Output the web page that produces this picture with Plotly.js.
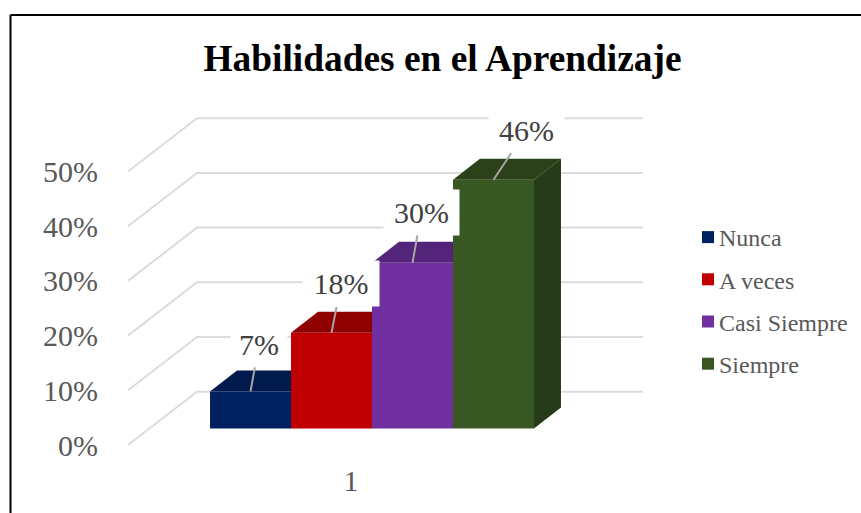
<!DOCTYPE html>
<html><head><meta charset="utf-8">
<script src="https://cdn.plot.ly/plotly-3.0.1.min.js"></script>
<style>html,body{margin:0;padding:0;background:#fff}#c{width:861px;height:513px}</style>
</head><body><div id="c"></div>
<script>
// Data
const categories = ['1'];
const series = ['Nunca', 'A veces', 'Casi Siempre', 'Siempre'];
const values = [6.8, 17.5, 30.3, 45.5];
const yTicks = [0, 10, 20, 30, 40, 50];
const yTickLabels = ['0%', '10%', '20%', '30%', '40%', '50%'];
const frontColors = ['#002060', '#c00000', '#7030a0', '#385723'];
const topColors = ['#001a4d', '#8f0000', '#54247a', '#2a4119'];
const sideColor = '#263c18';

// Pseudo-3D geometry in axis units
const L = 99, R = 855, T = 100, B = 452;
const xUnit = 446, yUnit = 5.47, xZero = 351, yZero = 445;
const floor = 3.0, barLeft = -0.3161, barW = 0.1816, depthX = 0.0605, depthY = 3.84;
const wallX = 0.1547, wallY = 9.74;
const FONT = 'Liberation Serif';

const traces = [];
yTicks.forEach(t => traces.push({
  type: 'scatter', mode: 'lines', zorder: -1, showlegend: false, hoverinfo: 'skip',
  x: [-0.5, -0.5 + wallX, 0.5 + wallX], y: [t, t + wallY, t + wallY],
  line: {color: '#dcdcdc', width: 2}
}));
series.forEach((name, i) => {
  const x0 = barLeft + i * barW, x1 = x0 + barW, top = floor + values[i];
  traces.push({
    type: 'bar', name, x: [0], y: [values[i]], base: floor, width: barW, offset: x0,
    zorder: i, legendgroup: name, hoverinfo: 'skip',
    marker: {color: frontColors[i], line: {width: 0}}
  });
  traces.push({
    type: 'scatter', mode: 'lines', zorder: i, showlegend: false, hoverinfo: 'skip',
    x: [x0, x1, x1 + depthX, x0 + depthX, x0], y: [top, top, top + depthY, top + depthY, top],
    fill: 'toself', fillcolor: topColors[i], line: {width: 0, color: topColors[i]}
  });
  traces.push({
    type: 'scatter', mode: 'lines', zorder: i, showlegend: false, hoverinfo: 'skip',
    x: [x1, x1 + depthX, x1 + depthX, x1, x1], y: [floor, floor + depthY, top + depthY, top, floor],
    fill: 'toself', fillcolor: sideColor, line: {width: 0, color: sideColor}
  });
});

const labelOffsets = [[8.5, -47, 56], [9.5, -49, 76], [9, -50.5, 75], [33, -49.5, 75]];
const annotations = series.map((name, i) => ({
  xref: 'x', yref: 'y', x: barLeft + (i + 0.5) * barW, y: floor + values[i],
  text: Math.round(values[i]) + '%', font: {family: FONT, size: 30, color: '#404040'},
  showarrow: true, arrowhead: 0, arrowwidth: 2, arrowcolor: '#a6a6a6', standoff: 0,
  axref: 'pixel', ayref: 'pixel',
  ax: labelOffsets[i][0], ay: labelOffsets[i][1],
  width: labelOffsets[i][2], height: 45, bgcolor: '#ffffff', borderpad: 0, align: 'center', valign: 'middle'
}));

const fx = p => (p - L) / (R - L), fy = p => (B - p) / (B - T);
const layout = {
  width: 861, height: 513, paper_bgcolor: '#fff', plot_bgcolor: 'rgba(0,0,0,0)',
  margin: {l: L, r: 861 - R, t: T, b: 513 - B, pad: 0},
  barmode: 'overlay', hovermode: false,
  title: {text: 'Habilidades en el Aprendizaje', x: 442.5 / 861, xanchor: 'center', xref: 'container', y: 1 - 58 / 513, yanchor: 'middle', yref: 'container',
    font: {family: FONT, size: 37.4, color: '#000', weight: 'bold'}},
  xaxis: {range: [(L - xZero) / xUnit, (R - xZero) / xUnit], tickvals: [0], ticktext: categories,
    showgrid: false, zeroline: false, showline: false, ticks: 'outside', ticklen: 2, tickcolor: 'rgba(0,0,0,0)',
    tickfont: {family: FONT, size: 30, color: '#595959'}},
  yaxis: {range: [(yZero - B) / yUnit, (yZero - T) / yUnit], tickvals: yTicks, ticktext: yTickLabels,
    showgrid: false, zeroline: false, showline: false, ticks: '',
    tickfont: {family: FONT, size: 30, color: '#595959'}},
  showlegend: true,
  legend: {x: fx(679), xanchor: 'left', y: fy(215), yanchor: 'top', tracegroupgap: 8,
    entrywidth: 70, entrywidthmode: 'pixels',
    font: {family: FONT, size: 24, color: '#595959'}, bgcolor: 'rgba(0,0,0,0)', borderwidth: 0, itemclick: false, itemdoubleclick: false},
  annotations,
  shapes: [
    {type: 'line', xref: 'paper', yref: 'paper', x0: fx(10.5), x1: fx(10.5), y0: fy(15), y1: fy(513), line: {color: '#000', width: 2}},
    {type: 'line', xref: 'paper', yref: 'paper', x0: fx(10.5), x1: fx(861), y0: fy(15), y1: fy(15), line: {color: '#000', width: 2}}
  ]
};
Plotly.newPlot('c', traces, layout, {displayModeBar: false, staticPlot: true}).then(() => {
  document.querySelectorAll('.legendsymbols').forEach(g => g.setAttribute('transform', 'translate(9,0)'));
});
</script></body></html>
